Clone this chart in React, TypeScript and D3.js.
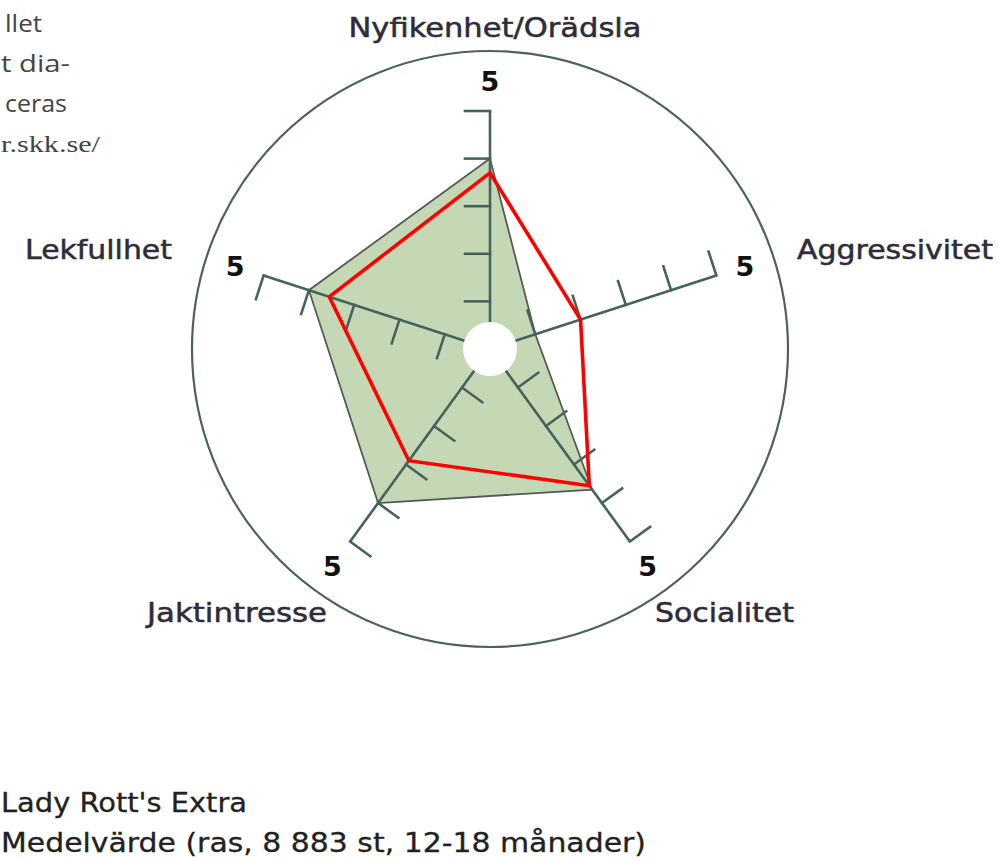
import React from "react";
import * as d3 from "d3";

const categories = ["Nyfikenhet/Orädsla", "Aggressivitet", "Socialitet", "Jaktintresse", "Lekfullhet"];
const averageValues = [4.0, 1.0, 3.65, 4.0, 4.0];
const dogValues = [3.7, 2.0, 3.55, 2.9, 3.55];
const tickValues = [1, 2, 3, 4, 5];
const maxValue = 5;
const legendLabels = ["Lady Rott's Extra", "Medelvärde (ras, 8 883 st, 12-18 månader)"];
const introLines = ["llet", "t dia-", "ceras", "r.skk.se/"];

const W = 998;
const H = 861;
const cx = 490;
const cy = 349;
const axisLen = 238;
const outerR = 298;
const tickLen = 25;

// label placement per axis: [x, y, anchor, width]
const labelLayout: [number, number, string, number][] = [
  [495, 37, "middle", 293],
  [797, 259, "start", 196],
  [655, 622, "start", 139],
  [327, 622, "end", 180],
  [172, 259, "end", 147],
];
const introLayout: [number, number][] = [
  [5, 37],
  [1, 69],
  [5, 62],
  [1, 99],
];
const legendWidths = [246, 645];

export default function App() {
  const r = d3.scaleLinear().domain([0, maxValue]).range([0, axisLen]);
  const n = categories.length;
  const ang = (i: number) => (i * 2 * Math.PI) / n; // 0 at top, clockwise
  const dir = (i: number) => [Math.sin(ang(i)), -Math.cos(ang(i))];

  const radial = d3
    .lineRadial<number>()
    .angle((_, i) => ang(i))
    .radius((d) => r(d))
    .curve(d3.curveLinearClosed);

  const axisColor = "#46625c";

  return (
    <svg
      width={W}
      height={H}
      style={{ position: "absolute", left: 0, top: 0, background: "#fff" }}
      fontFamily="'DejaVu Sans', Verdana, sans-serif"
    >
      {introLines.map((t, i) => (
        <text
          key={t}
          x={introLayout[i][0]}
          y={32 + i * 40}
          textLength={introLayout[i][1]}
          lengthAdjust="spacingAndGlyphs"
          fontSize={24}
          fill="#444"
          fontFamily={i === 3 ? "'Liberation Serif', serif" : "'Open Sans', sans-serif"}
        >
          {t}
        </text>
      ))}

      <circle cx={cx} cy={cy} r={outerR} fill="none" stroke="#4d615f" strokeWidth={2.2} />

      <g transform={`translate(${cx},${cy})`}>
        <path d={radial(averageValues) || ""} fill="#c5d8b5" stroke="#555a55" strokeWidth={1.8} />

        {categories.map((c, i) => {
          const [dx, dy] = dir(i);
          return (
            <g key={c}>
              <line x1={0} y1={0} x2={dx * r(maxValue)} y2={dy * r(maxValue)} stroke={axisColor} strokeWidth={2.6} />
              {tickValues.map((t) => {
                const bx = dx * r(t);
                const by = dy * r(t);
                const tx = dy;
                const ty = -dx;
                return (
                  <line
                    key={t}
                    x1={bx}
                    y1={by}
                    x2={bx + tx * tickLen}
                    y2={by + ty * tickLen}
                    stroke={axisColor}
                    strokeWidth={2.6}
                    strokeLinecap="square"
                  />
                );
              })}
              <text
                x={dx * (r(maxValue) + 30)}
                y={dy * (r(maxValue) + 30)}
                dy="0.36em"
                textAnchor="middle"
                fontSize={27}
                fontWeight="bold"
                fill="#111"
              >
                {String(maxValue)}
              </text>
            </g>
          );
        })}

        <path d={radial(dogValues) || ""} fill="none" stroke="#ff0000" strokeWidth={3.6} strokeLinejoin="miter" />

        <circle cx={0} cy={0} r={27} fill="#fff" />
      </g>

      {categories.map((c, i) => (
        <text
          key={c}
          x={labelLayout[i][0]}
          y={labelLayout[i][1]}
          textAnchor={labelLayout[i][2] as any}
          textLength={labelLayout[i][3]}
          lengthAdjust="spacingAndGlyphs"
          fontSize={26}
          fill="#2e2c3a"
          stroke="#2e2c3a"
          strokeWidth={0.5}
        >
          {c}
        </text>
      ))}

      {legendLabels.map((t, i) => (
        <text
          key={t}
          x={1}
          y={812 + i * 40}
          textLength={legendWidths[i]}
          lengthAdjust="spacingAndGlyphs"
          fontSize={26}
          fill="#222"
          stroke="#222"
          strokeWidth={0.3}
        >
          {t}
        </text>
      ))}
    </svg>
  );
}
